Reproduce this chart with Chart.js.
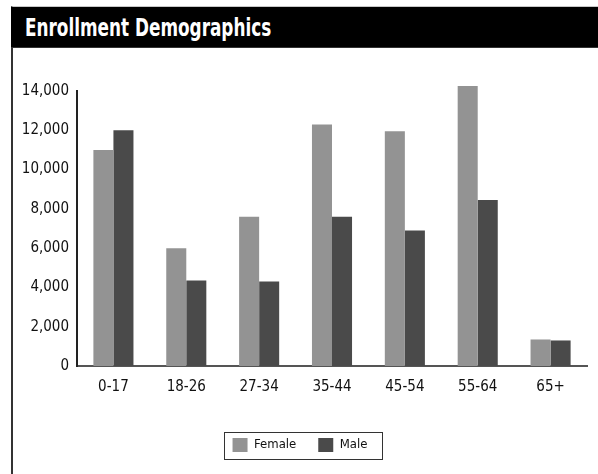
<!DOCTYPE html>
<html>
<head>
<meta charset="utf-8">
<script src="https://cdn.jsdelivr.net/npm/chart.js@4"></script>
<style>
  html, body { margin: 0; padding: 0; background: #fff; }
  body { width: 598px; height: 474px; position: relative; overflow: hidden; }
  #panel {
    position: absolute; left: 11px; top: 6px; width: 587px; height: 468px;
    border-top: 1px solid #c8c8c8; border-left: 2px solid #333; box-sizing: border-box;
  }
  #title {
    position: absolute; left: -2px; top: 0; width: 589px; height: 41px;
    background: #000; color: #fff; box-sizing: border-box;
    border-bottom: 1px solid #333; padding-left: 14px;
    font-family: "DejaVu Sans Condensed", "DejaVu Sans", sans-serif;
    font-stretch: condensed; font-weight: bold; font-size: 25px; line-height: 41px;
    white-space: nowrap;
  }
  #title span { display: inline-block; transform: scaleX(0.75); transform-origin: 0 50%; }
  #wrap { position: absolute; left: 0px; top: 41px; width: 585px; height: 427px; }
</style>
</head>
<body>
<div id="panel">
  <div id="title"><span>Enrollment Demographics</span></div>
  <div id="wrap"><canvas id="chart" width="585" height="427"></canvas></div>
</div>
<script>
const ageGroups = ["0-17", "18-26", "27-34", "35-44", "45-54", "55-64", "65+"];
const female = [11000, 6000, 7600, 12300, 11950, 14250, 1350];
const male = [12000, 4350, 4300, 7600, 6900, 8450, 1300];
const yTicks = [0, 2000, 4000, 6000, 8000, 10000, 12000, 14000];

const FONT = "'DejaVu Sans Condensed', 'DejaVu Sans', sans-serif";

// Frame drawn around the legend items
const legendFrame = {
  id: 'legendFrame',
  afterDraw(chart) {
    const boxes = chart.legend && chart.legend.legendHitBoxes;
    if (!boxes || !boxes.length) return;
    let l = Infinity, r = -Infinity, t = Infinity, b = -Infinity;
    boxes.forEach(h => {
      l = Math.min(l, h.left); r = Math.max(r, h.left + h.width);
      t = Math.min(t, h.top); b = Math.max(b, h.top + h.height);
    });
    const ctx = chart.ctx;
    ctx.save();
    ctx.strokeStyle = '#333';
    ctx.lineWidth = 1;
    ctx.strokeRect(Math.round(l - 9) + 0.5, Math.round(t - 6) + 0.5,
                   Math.round(r - l + 23), Math.round(b - t + 13));
    ctx.restore();
  }
};

new Chart(document.getElementById('chart'), {
  type: 'bar',
  data: {
    labels: ageGroups,
    datasets: [
      { label: 'Female', data: female, backgroundColor: '#939393', clip: false },
      { label: 'Male', data: male, backgroundColor: '#4a4a4a', clip: false }
    ]
  },
  plugins: [legendFrame],
  options: {
    responsive: false,
    animation: false,
    layout: { padding: { top: 43, right: 11, bottom: 13, left: 0 } },
    datasets: { bar: { categoryPercentage: 0.55, barPercentage: 1.0 } },
    scales: {
      x: {
        grid: { display: false, drawTicks: false },
        border: { display: true, color: '#555', width: 2 },
        ticks: { color: '#111', padding: 12, font: { family: FONT, size: 15 } },
        afterFit(scale) { scale.height = 50; }
      },
      y: {
        min: 0, max: 14000,
        afterBuildTicks(scale) { scale.ticks = yTicks.map(v => ({ value: v })); },
        grid: { display: false, drawTicks: false },
        border: { display: true, color: '#222', width: 2 },
        ticks: {
          color: '#111', padding: 8, font: { family: FONT, size: 15 },
          callback: v => v.toLocaleString('en-US')
        },
        afterFit(scale) { scale.width = 64; }
      }
    },
    plugins: {
      legend: {
        position: 'bottom',
        labels: {
          boxWidth: 15, boxHeight: 14, padding: 22, color: '#111',
          font: { family: FONT, size: 13 }
        }
      },
      tooltip: { enabled: false },
      title: { display: false }
    }
  }
});
</script>
</body>
</html>
